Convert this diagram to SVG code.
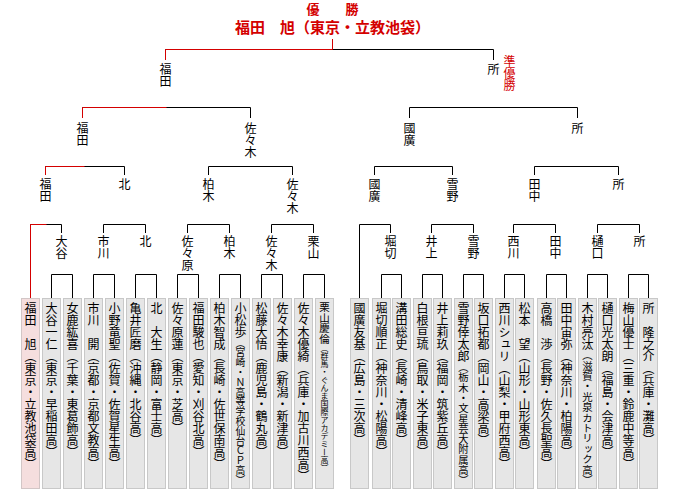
<svg xmlns="http://www.w3.org/2000/svg" width="680" height="490" viewBox="0 0 680 490">
<style>
text{font-family:"Noto Sans CJK JP","Noto Sans CJK SC",sans-serif;fill:#000}
.v{writing-mode:vertical-rl;font-size:12px}
.t{font-weight:bold;fill:#d40000;text-anchor:middle}
.red{fill:#d40000}
.bx{fill:#e6e6e6;stroke:#c8c8c8;stroke-width:1}
.win{fill:#f5dede;stroke:#d2c6c6;stroke-width:1}
.k{fill:none;stroke:#000;stroke-width:1}
.r{fill:none;stroke:#d40000;stroke-width:1}
</style>
<g id="title">
<text class="t" x="332.5" y="13.5" font-size="13">優　　勝</text>
<text class="t" x="332.5" y="33" font-size="15">福田　旭（東京・立教池袋）</text>
</g>
<g id="connectors">
<path class="k" d="M165.5 60V49.5H493.5V60"/>
<path class="k" d="M82.5 118V107.5H250.5V118M409.5 118V107.5H577.5V118"/>
<path class="k" d="M45.5 175V166.5H124.5V175M208.5 175V166.5H292.5V175M374.5 175V166.5H452.5V175M534.5 175V166.5H618.5V175"/>
<path class="k" d="M30.5 298V224.5H61.5V233M103.5 233V224.5H145.5V233M187.5 233V224.5H229.5V233M271.5 233V224.5H313.5V233"/>
<path class="k" d="M359.5 298V224.5H390.5V233M431.5 233V224.5H473.5V233M513.5 233V224.5H555.5V233M597.5 233V224.5H639.5V233"/>
<path class="k" d="M51.5 298V274.5H72.5V298M93.5 298V274.5H114.5V298M135.5 298V274.5H156.5V298M177.5 298V274.5H198.5V298M219.5 298V274.5H240.5V298M261.5 298V274.5H282.5V298M303.5 298V274.5H324.5V298"/>
<path class="k" d="M381.5 298V274.5H401.5V298M422.5 298V274.5H442.5V298M463.5 298V274.5H483.5V298M504.5 298V274.5H524.5V298M546.5 298V274.5H566.5V298M587.5 298V274.5H607.5V298M628.5 298V274.5H648.5V298"/>
<path class="r" d="M332.5 39V49.5M165.5 60V49.5H332.5M82.5 118V107.5H166.5M45.5 175V166.5H84.5M30.5 298V224.5H46.5"/>
</g>
<g id="final-labels">
<g id="n-final-fukuda"><text class="v" x="165.5" y="63">福田</text></g>
<g id="n-final-tokoro"><text class="v" x="493.5" y="63">所</text></g>
<g id="n-runnerup"><text class="v red" x="509.5" y="55">準優勝</text></g>
</g>
<g id="semi-labels">
<g id="n-s1"><text class="v" x="82.5" y="122">福田</text></g>
<g id="n-s2"><text class="v" x="250.5" y="122">佐々木</text></g>
<g id="n-s3"><text class="v" x="409.5" y="122">國廣</text></g>
<g id="n-s4"><text class="v" x="577.5" y="122">所</text></g>
</g>
<g id="qf-labels">
<g id="n-q1"><text class="v" x="45.5" y="178">福田</text></g>
<g id="n-q2"><text class="v" x="124.5" y="178">北</text></g>
<g id="n-q3"><text class="v" x="208.5" y="178">柏木</text></g>
<g id="n-q4"><text class="v" x="292.5" y="178">佐々木</text></g>
<g id="n-q5"><text class="v" x="374.5" y="178">國廣</text></g>
<g id="n-q6"><text class="v" x="452.5" y="178">雪野</text></g>
<g id="n-q7"><text class="v" x="534.5" y="178">田中</text></g>
<g id="n-q8"><text class="v" x="618.5" y="178">所</text></g>
</g>
<g id="r1-labels">
<g id="n-r1"><text class="v" x="61.5" y="235">大谷</text></g>
<g id="n-r2"><text class="v" x="103.5" y="235">市川</text></g>
<g id="n-r3"><text class="v" x="145.5" y="235">北</text></g>
<g id="n-r4"><text class="v" x="187.5" y="235">佐々原</text></g>
<g id="n-r5"><text class="v" x="229.5" y="235">柏木</text></g>
<g id="n-r6"><text class="v" x="271.5" y="235">佐々木</text></g>
<g id="n-r7"><text class="v" x="313.5" y="235">栗山</text></g>
<g id="n-r8"><text class="v" x="390.5" y="235">堀切</text></g>
<g id="n-r9"><text class="v" x="431.5" y="235">井上</text></g>
<g id="n-r10"><text class="v" x="473.5" y="235">雪野</text></g>
<g id="n-r11"><text class="v" x="513.5" y="235">西川</text></g>
<g id="n-r12"><text class="v" x="555.5" y="235">田中</text></g>
<g id="n-r13"><text class="v" x="597.5" y="235">樋口</text></g>
<g id="n-r14"><text class="v" x="639.5" y="235">所</text></g>
</g>
<g id="players">
<g id="p01"><rect class="win" x="21.5" y="298.5" width="18" height="190"/><text class="v" x="30.5" y="302">福田　旭（東京・立教池袋高）</text></g>
<g id="p02"><rect class="bx" x="42.5" y="298.5" width="18" height="190"/><text class="v" x="51.5" y="302">大谷一仁（東京・早稲田高）</text></g>
<g id="p03"><rect class="bx" x="63.5" y="298.5" width="18" height="190"/><text class="v" x="72.5" y="302">女鹿紘喜（千葉・東葛飾高）</text></g>
<g id="p04"><rect class="bx" x="84.5" y="298.5" width="18" height="190"/><text class="v" x="93.5" y="302">市川　開（京都・京都文教高）</text></g>
<g id="p05"><rect class="bx" x="105.5" y="298.5" width="18" height="190"/><text class="v" x="114.5" y="302">小野竜聖（佐賀・佐賀星生高）</text></g>
<g id="p06"><rect class="bx" x="126.5" y="298.5" width="18" height="190"/><text class="v" x="135.5" y="302">亀井匠磨（沖縄・北谷高）</text></g>
<g id="p07"><rect class="bx" x="147.5" y="298.5" width="18" height="190"/><text class="v" x="156.5" y="302">北　大生（静岡・富士高）</text></g>
<g id="p08"><rect class="bx" x="168.5" y="298.5" width="18" height="190"/><text class="v" x="177.5" y="302">佐々原蓮（東京・芝高）</text></g>
<g id="p09"><rect class="bx" x="189.5" y="298.5" width="18" height="190"/><text class="v" x="198.5" y="302">福田駿也（愛知・刈谷北高）</text></g>
<g id="p10"><rect class="bx" x="210.5" y="298.5" width="18" height="190"/><text class="v" x="219.5" y="302">柏木智成（長崎・佐世保南高）</text></g>
<g id="p11"><rect class="bx" x="231.5" y="298.5" width="18" height="190"/><text class="v" x="240.5" y="302">小松歩<tspan font-size="9.8">（宮崎・Ｎ高等学校仙台ＣＰ高）</tspan></text></g>
<g id="p12"><rect class="bx" x="252.5" y="298.5" width="18" height="190"/><text class="v" x="261.5" y="302">松藤大悟（鹿児島・鶴丸高）</text></g>
<g id="p13"><rect class="bx" x="273.5" y="298.5" width="18" height="190"/><text class="v" x="282.5" y="302">佐々木幸康（新潟・新津高）</text></g>
<g id="p14"><rect class="bx" x="294.5" y="298.5" width="18" height="190"/><text class="v" x="303.5" y="302">佐々木優綺（兵庫・加古川西高）</text></g>
<g id="p15"><rect class="bx" x="315.5" y="298.5" width="18" height="190"/><text class="v" x="324.5" y="302"><tspan font-size="10.5">栗山慶倫</tspan><tspan font-size="8">（群馬・ぐんま国際アカデミー高）</tspan></text></g>
<g id="p16"><rect class="bx" x="350.5" y="298.5" width="18" height="190"/><text class="v" x="359.5" y="302">國廣友基（広島・三次高）</text></g>
<g id="p17"><rect class="bx" x="372.5" y="298.5" width="18" height="190"/><text class="v" x="381.5" y="302">堀切順正（神奈川・松陽高）</text></g>
<g id="p18"><rect class="bx" x="392.5" y="298.5" width="18" height="190"/><text class="v" x="401.5" y="302">溝田総史（長崎・清峰高）</text></g>
<g id="p19"><rect class="bx" x="413.5" y="298.5" width="18" height="190"/><text class="v" x="422.5" y="302">白根亘琉（鳥取・米子東高）</text></g>
<g id="p20"><rect class="bx" x="433.5" y="298.5" width="18" height="190"/><text class="v" x="442.5" y="302">井上莉玖（福岡・筑紫丘高）</text></g>
<g id="p21"><rect class="bx" x="454.5" y="298.5" width="18" height="190"/><text class="v" x="463.5" y="302">雪野倖太郎<tspan font-size="10.3">（栃木・文星芸大附属高）</tspan></text></g>
<g id="p22"><rect class="bx" x="474.5" y="298.5" width="18" height="190"/><text class="v" x="483.5" y="302">坂口拓都（岡山・高梁高）</text></g>
<g id="p23"><rect class="bx" x="495.5" y="298.5" width="18" height="190"/><text class="v" x="504.5" y="302">西川シュリ（山梨・甲府西高）</text></g>
<g id="p24"><rect class="bx" x="515.5" y="298.5" width="18" height="190"/><text class="v" x="524.5" y="302">松本　望（山形・山形東高）</text></g>
<g id="p25"><rect class="bx" x="537.5" y="298.5" width="18" height="190"/><text class="v" x="546.5" y="302">高橋　渉（長野・佐久長聖高）</text></g>
<g id="p26"><rect class="bx" x="557.5" y="298.5" width="18" height="190"/><text class="v" x="566.5" y="302">田中宙弥（神奈川・柏陽高）</text></g>
<g id="p27"><rect class="bx" x="578.5" y="298.5" width="18" height="190"/><text class="v" x="587.5" y="302">木村亮汰<tspan font-size="10.4">（滋賀・光泉カトリック高）</tspan></text></g>
<g id="p28"><rect class="bx" x="598.5" y="298.5" width="18" height="190"/><text class="v" x="607.5" y="302">樋口光太朗（福島・会津高）</text></g>
<g id="p29"><rect class="bx" x="619.5" y="298.5" width="18" height="190"/><text class="v" x="628.5" y="302">梅山優士（三重・鈴鹿中等高）</text></g>
<g id="p30"><rect class="bx" x="639.5" y="298.5" width="18" height="190"/><text class="v" x="648.5" y="302">所　隆之介（兵庫・灘高）</text></g>
</g>
</svg>
